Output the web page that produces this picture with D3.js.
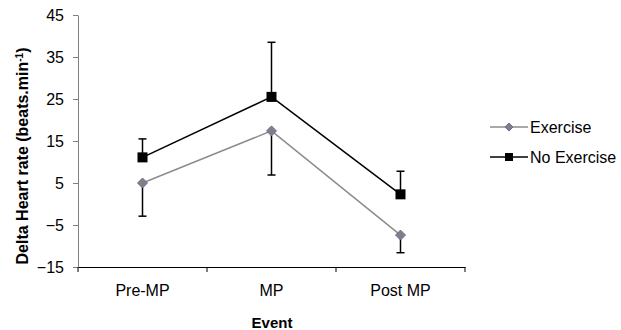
<!DOCTYPE html>
<html><head><meta charset="utf-8">
<script src="https://cdn.jsdelivr.net/npm/d3@7"></script>
<style>body{margin:0;background:#fff}svg{display:block}</style>
</head><body>
<svg id="c" width="621" height="330"></svg>
<script>
const categories = ["Pre-MP", "MP", "Post MP"];
const exercise = [5, 17.4, -7.4];
const exerciseErr = [7.9, 10.5, 4.2];     // drawn downward
const noExercise = [11.1, 25.5, 2.3];
const noExerciseErr = [4.4, 13, 5.5];     // drawn upward
const yTicks = [-15, -5, 5, 15, 25, 35, 45];

const svg = d3.select("#c");
const font = "Liberation Sans, Arial, sans-serif";
const x = d3.scaleBand().domain(categories).range([78, 465]);
const y = d3.scaleLinear().domain([-15, 45]).range([267, 15]);
const cx = d => x(d) + x.bandwidth() / 2;

// y axis
const ya = svg.append("g").attr("transform", "translate(78,0)")
  .call(d3.axisLeft(y).tickValues(yTicks).tickSize(5).tickSizeOuter(0).tickPadding(9));
ya.select(".domain").attr("stroke", "#808080");
ya.selectAll(".tick line").attr("stroke", "#808080");
ya.selectAll("text").attr("font-family", font).attr("font-size", 16).attr("fill", "#000");

// x axis
const xa = svg.append("g").attr("transform", "translate(0,267)")
  .call(d3.axisBottom(x).tickSize(0).tickPadding(18));
xa.select(".domain").attr("stroke", "#000");
xa.selectAll("text").attr("font-family", font).attr("font-size", 16).attr("fill", "#000");
const bounds = [x.range()[0]].concat(categories.map(c => x(c) + x.bandwidth()));
svg.append("g").selectAll("line").data(bounds).join("line")
  .attr("x1", d => d).attr("x2", d => d).attr("y1", 267).attr("y2", 272)
  .attr("stroke", "#000");

// titles
svg.append("text").attr("x", 272).attr("y", 328).attr("text-anchor", "middle")
  .attr("font-family", font).attr("font-weight", "bold").attr("font-size", 15).text("Event");
const yt = svg.append("text").attr("transform", "translate(28,156) rotate(-90)")
  .attr("text-anchor", "middle").attr("font-family", font).attr("font-weight", "bold").attr("font-size", 16);
yt.append("tspan").text("Delta Heart rate (beats.min");
yt.append("tspan").attr("dy", -5).attr("font-size", 10).text("-1");
yt.append("tspan").attr("dy", 5).text(")");

// error bars
function errBars(vals, errs, dir) {
  const g = svg.append("g").attr("stroke", "#000").attr("stroke-width", 1.5);
  categories.forEach((c, i) => {
    const y2 = y(vals[i] + dir * errs[i]);
    g.append("line").attr("x1", cx(c)).attr("x2", cx(c)).attr("y1", y(vals[i])).attr("y2", y2);
    g.append("line").attr("x1", cx(c) - 4).attr("x2", cx(c) + 4).attr("y1", y2).attr("y2", y2);
  });
}
errBars(exercise, exerciseErr, -1);
errBars(noExercise, noExerciseErr, 1);

const line = d3.line().x((d, i) => cx(categories[i])).y(d => y(d));
svg.append("path").datum(exercise).attr("d", line).attr("fill", "none").attr("stroke", "#8c8c8c").attr("stroke-width", 1.5);
svg.append("path").datum(noExercise).attr("d", line).attr("fill", "none").attr("stroke", "#000").attr("stroke-width", 1.5);

const diamond = (px, py, s) => `M${px},${py - s}L${px + s},${py}L${px},${py + s}L${px - s},${py}Z`;
svg.append("g").selectAll("path").data(exercise).join("path")
  .attr("d", (d, i) => diamond(cx(categories[i]), y(d), 5))
  .attr("fill", "#808080").attr("stroke", "#6a6aa8").attr("stroke-width", 1);
svg.append("g").selectAll("rect").data(noExercise).join("rect")
  .attr("x", (d, i) => cx(categories[i]) - 5).attr("y", d => y(d) - 5)
  .attr("width", 10).attr("height", 10).attr("fill", "#000");

// legend
const lg = svg.append("g");
lg.append("line").attr("x1", 490).attr("x2", 528).attr("y1", 127).attr("y2", 127).attr("stroke", "#8c8c8c").attr("stroke-width", 1.5);
lg.append("path").attr("d", diamond(509, 127, 4)).attr("fill", "#808080").attr("stroke", "#6a6aa8");
lg.append("text").attr("x", 530).attr("y", 133).attr("font-family", font).attr("font-size", 16).text("Exercise");
lg.append("line").attr("x1", 490).attr("x2", 528).attr("y1", 157).attr("y2", 157).attr("stroke", "#000").attr("stroke-width", 1.5);
lg.append("rect").attr("x", 505).attr("y", 153).attr("width", 8).attr("height", 8).attr("fill", "#000");
lg.append("text").attr("x", 530).attr("y", 163).attr("font-family", font).attr("font-size", 16).text("No Exercise");
</script>
</body></html>
